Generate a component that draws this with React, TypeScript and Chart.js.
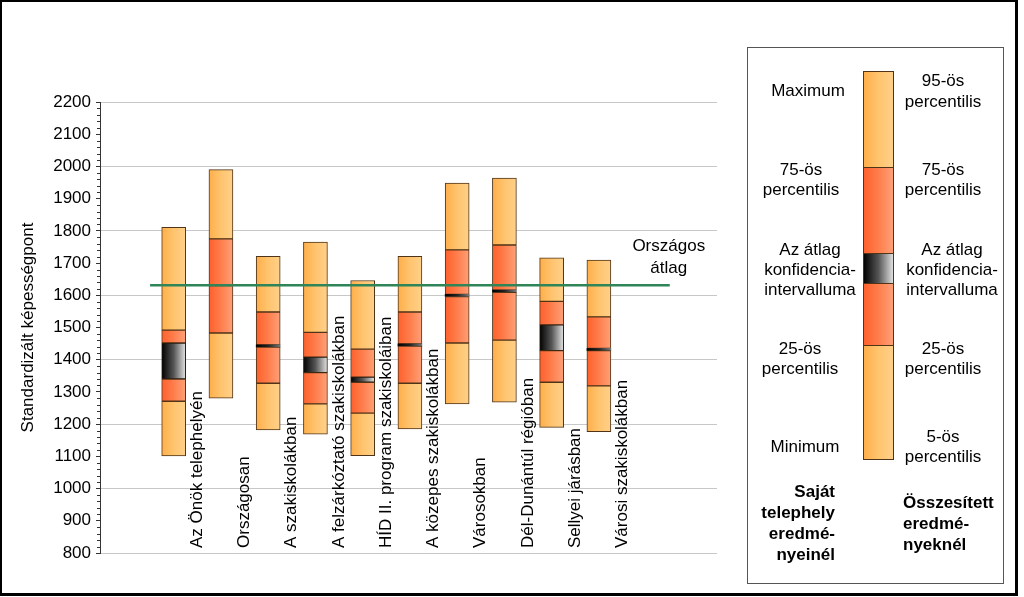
import React, { useEffect, useRef } from 'react';
import { Chart, registerables } from 'chart.js';

Chart.register(...registerables);

// ---- Data ----
const categories = [
  'Az Önök telephelyén',
  'Országosan',
  'A szakiskolákban',
  'A felzárkóztató szakiskolákban',
  'HÍD II. program szakiskoláiban',
  'A közepes szakiskolákban',
  'Városokban',
  'Dél-Dunántúl régióban',
  'Sellyei járásban',
  'Városi szakiskolákban',
];
const p05 = [1101, 1281, 1182, 1169, 1102, 1185, 1263, 1268, 1190, 1177];
const p25 = [1271, 1483, 1327, 1263, 1234, 1327, 1452, 1461, 1330, 1319];
const ciLow = [1340, 1630, 1439, 1360, 1330, 1442, 1596, 1609, 1428, 1428];
const ciHigh = [1452, 1632, 1446, 1408, 1346, 1449, 1603, 1616, 1508, 1435];
const p75 = [1492, 1775, 1548, 1485, 1433, 1548, 1741, 1756, 1581, 1533];
const p95 = [1811, 1990, 1721, 1765, 1646, 1721, 1948, 1964, 1716, 1709];
const nationalAverage = 1631;
const nationalLabel = ['Országos', 'átlag'];
const yAxisTitle = 'Standardizált képességpont';

const FONT = '"Liberation Sans", Arial, sans-serif';
const LIGHT = ['#FFAE4A', '#FFC46E', '#FFD08A'];
const RED = ['#FF602C', '#FF7E4C', '#FFA078'];
const CI = ['#000000', '#555555', '#E4E4E4'];
const CI_THIN = ['#000000', '#222222', '#777777'];
const EDGE = '#4f3418';
const BAR_W = 24;

function grad(stops: string[], thinStops?: string[]) {
  return (c: any) => {
    if (c.type !== 'data' || !c.chart.scales || !c.chart.scales.x) return stops[1];
    const xs = c.chart.scales.x;
    const cx = xs.getPixelForValue(c.raw && c.raw.x);
    if (!Number.isFinite(cx)) return stops[1];
    const use = thinStops && Math.abs(c.raw.y[1] - c.raw.y[0]) < 12 ? thinStops : stops;
    const g = c.chart.ctx.createLinearGradient(cx - BAR_W / 2, 0, cx + BAR_W / 2, 0);
    use.forEach((s, i) => g.addColorStop(i / (use.length - 1), s));
    return g;
  };
}

const seg = (lo: number[], hi: number[]) =>
  categories.map((_, i) => ({ x: i + 1, y: [lo[i], hi[i]] }));

const barDs = (label: string, lo: number[], hi: number[], stops: string[], extra: any = {}) => ({
  type: 'bar' as const,
  label,
  data: seg(lo, hi),
  backgroundColor: grad(stops, extra.thin),
  borderColor: EDGE,
  borderWidth: 1,
  borderSkipped: false,
  barThickness: BAR_W,
  grouped: false,
  order: 1,
  ...(extra.ds || {}),
});

const minorTicks = {
  id: 'minorTicks',
  afterDraw(chart: any) {
    const { ctx, chartArea, scales } = chart;
    const y = scales.y;
    ctx.save();
    ctx.strokeStyle = '#333';
    ctx.lineWidth = 1;
    for (let v = y.min; v <= y.max; v += 20) {
      if (v % 100 === 0) continue;
      const py = Math.round(y.getPixelForValue(v)) + 0.5;
      ctx.beginPath();
      ctx.moveTo(chartArea.left - 3, py);
      ctx.lineTo(chartArea.left, py);
      ctx.stroke();
    }
    ctx.restore();
  },
};

const textPlugin = {
  id: 'texts',
  afterDatasetsDraw(chart: any) {
    const { ctx, chartArea, scales } = chart;
    ctx.save();
    ctx.fillStyle = '#000';
    ctx.font = `17px ${FONT}`;
    categories.forEach((name, i) => {
      const x = scales.x.getPixelForValue(i + 1.5);
      ctx.save();
      ctx.translate(x, chartArea.bottom - 5);
      ctx.rotate(-Math.PI / 2);
      ctx.textAlign = 'left';
      ctx.textBaseline = 'middle';
      ctx.fillText(name, 0, 0);
      ctx.restore();
    });
    const lx = scales.x.getPixelForValue(11.5);
    const ly = scales.y.getPixelForValue(nationalAverage);
    ctx.textAlign = 'center';
    ctx.textBaseline = 'middle';
    ctx.fillText(nationalLabel[0], lx - 1, ly - 39);
    ctx.fillText(nationalLabel[1], lx - 1, ly - 17);
    ctx.restore();
  },
};

const legendPlugin = {
  id: 'legendBox',
  afterDraw(chart: any) {
    const c = chart.ctx;
    c.save();
    c.strokeStyle = '#555';
    c.lineWidth = 1;
    c.strokeRect(747.5, 47.5, 256, 536);
    const bx = 863.5;
    const bw = 30;
    const segs: [number, number, string[]][] = [
      [71.5, 167.5, LIGHT],
      [167.5, 253.5, RED],
      [253.5, 283.5, CI],
      [283.5, 345.5, RED],
      [345.5, 459.5, LIGHT],
    ];
    segs.forEach(([t, b, stops]) => {
      const g = c.createLinearGradient(bx, 0, bx + bw, 0);
      stops.forEach((s, i) => g.addColorStop(i / (stops.length - 1), s));
      c.fillStyle = g;
      c.fillRect(bx, t, bw, b - t);
      c.strokeStyle = EDGE;
      c.strokeRect(bx, t, bw, b - t);
    });
    c.fillStyle = '#000';
    c.font = `17px ${FONT}`;
    c.textAlign = 'center';
    c.textBaseline = 'middle';
    const left: [string, number, number][] = [
      ['Maximum', 808, 91],
      ['75-ös', 801, 170],
      ['percentilis', 801, 190],
      ['Az átlag', 810, 250],
      ['konfidencia-', 810, 270],
      ['intervalluma', 810, 290],
      ['25-ös', 800, 349],
      ['percentilis', 800, 369],
      ['Minimum', 805, 447],
    ];
    const right: [string, number, number][] = [
      ['95-ös', 943, 81],
      ['percentilis', 943, 102],
      ['75-ös', 943, 170],
      ['percentilis', 943, 190],
      ['Az átlag', 952, 250],
      ['konfidencia-', 952, 270],
      ['intervalluma', 952, 290],
      ['25-ös', 943, 349],
      ['percentilis', 943, 369],
      ['5-ös', 943, 437],
      ['percentilis', 943, 457],
    ];
    [...left, ...right].forEach(([t, x, y]) => c.fillText(t, x, y));
    c.font = `bold 17px ${FONT}`;
    c.textAlign = 'right';
    [['Saját', 492], ['telephely', 513], ['eredmé-', 534], ['nyeinél', 555]].forEach(([t, y]) =>
      c.fillText(t as string, 835, y as number));
    c.textAlign = 'left';
    [['Összesített', 503], ['eredmé-', 524], ['nyeknél', 545]].forEach(([t, y]) =>
      c.fillText(t as string, 903, y as number));
    c.strokeStyle = '#000';
    c.lineWidth = 2;
    c.beginPath();
    c.moveTo(1, 595);
    c.lineTo(1, 1);
    c.lineTo(1018, 1);
    c.stroke();
    c.lineWidth = 3;
    c.beginPath();
    c.moveTo(1016.5, 1);
    c.lineTo(1016.5, 594.5);
    c.lineTo(0, 594.5);
    c.stroke();
    c.restore();
  },
};

export default function App() {
  const ref = useRef<HTMLCanvasElement>(null);
  useEffect(() => {
    if (!ref.current) return;
    const chart = new Chart(ref.current, {
      type: 'bar',
      data: {
        datasets: [
          {
            type: 'line',
            label: 'Országos átlag',
            data: [
              { x: 0.5, y: nationalAverage },
              { x: 11.5, y: nationalAverage },
            ],
            borderColor: '#2f8558',
            borderWidth: 2.5,
            pointRadius: 0,
            order: 0,
          } as any,
          barDs('5-25', p05, p25, LIGHT),
          barDs('25-ci', p25, ciLow, RED),
          barDs('ci', ciLow, ciHigh, CI, {
            thin: CI_THIN,
            ds: {
              borderColor: '#2a1a0c',
              borderWidth: (c: any) =>
                c.type === 'data' && c.raw && Math.abs(c.raw.y[1] - c.raw.y[0]) < 12 ? 0 : 1,
            },
          }),
          barDs('ci-75', ciHigh, p75, RED),
          barDs('75-95', p75, p95, LIGHT),
        ],
      },
      options: {
        responsive: false,
        animation: false,
        devicePixelRatio: 1,
        layout: { padding: { left: 0, top: 102, right: 307, bottom: 44 } },
        plugins: { legend: { display: false }, tooltip: { enabled: false } },
        scales: {
          x: { type: 'linear', min: -0.56, max: 12.5, offset: false, display: false },
          y: {
            min: 800,
            max: 2200,
            ticks: {
              stepSize: 100,
              color: '#000',
              padding: 5,
              font: { family: FONT, size: 17 },
              callback: (v: any) => String(v),
            },
            grid: {
              color: (c: any) => (c.tick && c.tick.value % 200 === 0 ? '#c8c8c8' : 'rgba(0,0,0,0)'),
              tickColor: '#333',
              tickLength: 4,
            },
            border: { color: '#333' },
            title: {
              display: true,
              text: yAxisTitle,
              color: '#000',
              font: { family: FONT, size: 17 },
              padding: { top: 18, bottom: 0 },
            },
            afterFit: (s: any) => {
              s.width = 100;
            },
          },
        },
      } as any,
      plugins: [minorTicks, textPlugin, legendPlugin],
    });
    return () => chart.destroy();
  }, []);
  return (
    <div style={{ position: 'fixed', left: 0, top: 0, width: 1024, height: 597, background: '#fff' }}>
      <canvas ref={ref} width={1024} height={597} style={{ display: 'block' }} />
    </div>
  );
}
